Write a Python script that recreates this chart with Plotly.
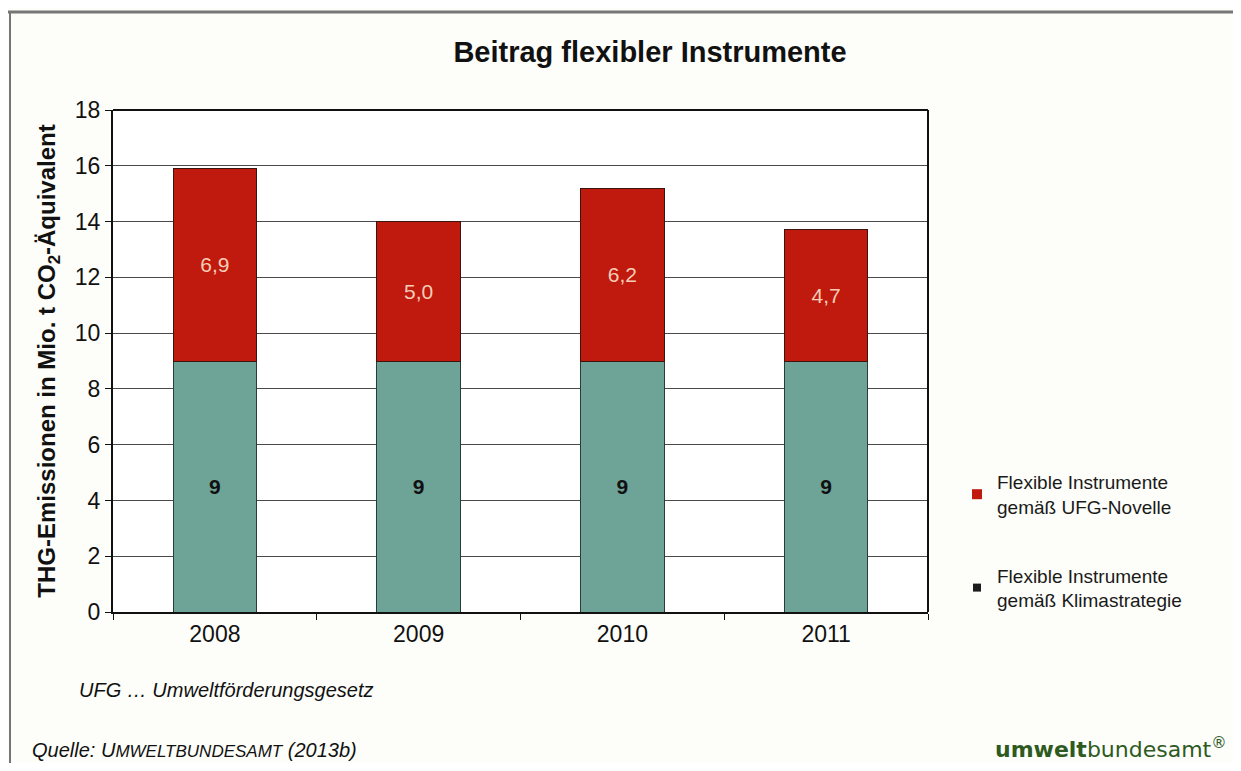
import plotly.graph_objects as go

years = ["2008", "2009", "2010", "2011"]
klimastrategie = [9, 9, 9, 9]
ufg_novelle = [6.9, 5.0, 6.2, 4.7]
y_ticks = [0, 2, 4, 6, 8, 10, 12, 14, 16, 18]

RED = "#c0190e"
TEAL = "#6ea398"
FONT = "Liberation Sans, Arial, sans-serif"

# figure is placed by the browser with an 8px body margin
W, H = 1225, 755
OFF = 8
L, T, R, B = 113 - OFF, 110 - OFF, 928 - OFF, 612 - OFF
PW, PH = R - L, B - T


def px(x):
    return (x - OFF - L) / PW


def py(y):
    return (B - (y - OFF)) / PH


fig = go.Figure()
fig.add_trace(go.Bar(
    x=years, y=klimastrategie, name="Flexible Instrumente<br>gemäß Klimastrategie",
    marker=dict(color=TEAL, line=dict(color="#2b3b36", width=1)),
    text=[str(v) for v in klimastrategie], textposition="inside",
    insidetextanchor="middle",
    textfont=dict(family=FONT, size=21, color="#111111", weight="bold"),
    showlegend=False,
))
fig.add_trace(go.Bar(
    x=years, y=ufg_novelle, name="Flexible Instrumente<br>gemäß UFG-Novelle",
    marker=dict(color=RED, line=dict(color="#3a1510", width=1)),
    texttemplate="%{y:.1f}", textposition="inside", insidetextanchor="middle",
    textfont=dict(family=FONT, size=21, color="#f6cdb6"),
    showlegend=False,
))
# legend entries (as in the original: red square, dark square)
fig.add_trace(go.Scatter(
    x=[None], y=[None], mode="markers", name="Flexible Instrumente<br>gemäß UFG-Novelle",
    marker=dict(symbol="square", size=10, color=RED), legendgroup="a",
))
fig.add_trace(go.Scatter(
    x=[None], y=[None], mode="markers", name="Flexible Instrumente<br>gemäß Klimastrategie",
    marker=dict(symbol="square", size=8, color="#1c1c1c"), legendgroup="b",
))

fig.update_layout(
    width=W, height=H,
    barmode="stack", bargap=0.59,
    separators=",.",
    paper_bgcolor="#fdfdf9", plot_bgcolor="#ffffff",
    margin=dict(l=L, r=W - R, t=T, b=H - B, pad=0),
    font=dict(family=FONT, color="#111111"),
    title=dict(text="<b>Beitrag flexibler Instrumente</b>", x=(650 - OFF) / W, xref="container",
               xanchor="center", y=1 - (52 - OFF) / H, yanchor="middle",
               font=dict(family=FONT, size=29, color="#111111")),
    legend=dict(x=px(957), y=py(463), xanchor="left", yanchor="top",
                font=dict(family=FONT, size=19, color="#1a1a1a"),
                bgcolor="rgba(0,0,0,0)", tracegroupgap=41, traceorder="grouped"),
    xaxis=dict(type="category", showline=True, linecolor="#111111", linewidth=2, mirror=False,
               ticks="outside", tickson="boundaries", ticklen=6, tickcolor="#111111",
               tickfont=dict(family=FONT, size=23, color="#111111"), showgrid=False),
    yaxis=dict(range=[0, 18], tickvals=y_ticks, showline=True, linecolor="#111111", linewidth=2,
               ticks="outside", ticklen=6, tickcolor="#111111",
               tickfont=dict(family=FONT, size=23, color="#111111"),
               showgrid=True, gridcolor="#4a4a4a", gridwidth=1, zeroline=False,
               title=dict(text="<b>THG-Emissionen in Mio. t CO<sub>2</sub>-Äquivalent</b>",
                          font=dict(family=FONT, size=24, color="#111111"), standoff=12)),
    shapes=[
        # right and top border of plot area
        dict(type="line", xref="paper", yref="paper", x0=1, x1=1, y0=0, y1=1,
             line=dict(color="#111111", width=2)),
        dict(type="line", xref="paper", yref="paper", x0=0, x1=1, y0=1, y1=1,
             line=dict(color="#111111", width=2)),
        # page frame
        dict(type="line", xref="paper", yref="paper", x0=px(8), x1=px(1241),
             y0=py(12), y1=py(12), line=dict(color="#777777", width=3)),
        dict(type="line", xref="paper", yref="paper", x0=px(10), x1=px(10),
             y0=py(12), y1=py(771), line=dict(color="#777777", width=2)),
    ],
    annotations=[
        dict(text="<i>UFG … Umweltförderungsgesetz</i>", xref="paper", yref="paper",
             x=px(77), y=py(690), xanchor="left", yanchor="middle",
             showarrow=False, font=dict(family=FONT, size=20, color="#111111")),
        dict(text="<i>Quelle: U<span style='font-size:17px'>MWELTBUNDESAMT</span> (2013b)</i>",
             xref="paper", yref="paper",
             x=px(30), y=py(750), xanchor="left", yanchor="middle",
             showarrow=False, font=dict(family=FONT, size=20, color="#111111")),
        dict(text="<b>umwelt</b>bundesamt<sup>®</sup>", xref="paper", yref="paper",
             x=px(1229), y=py(748), xanchor="right", yanchor="middle",
             showarrow=False, font=dict(family="DejaVu Sans, sans-serif", size=22, color="#2d5a1f")),
    ],
)

fig.write_html("out.html")
